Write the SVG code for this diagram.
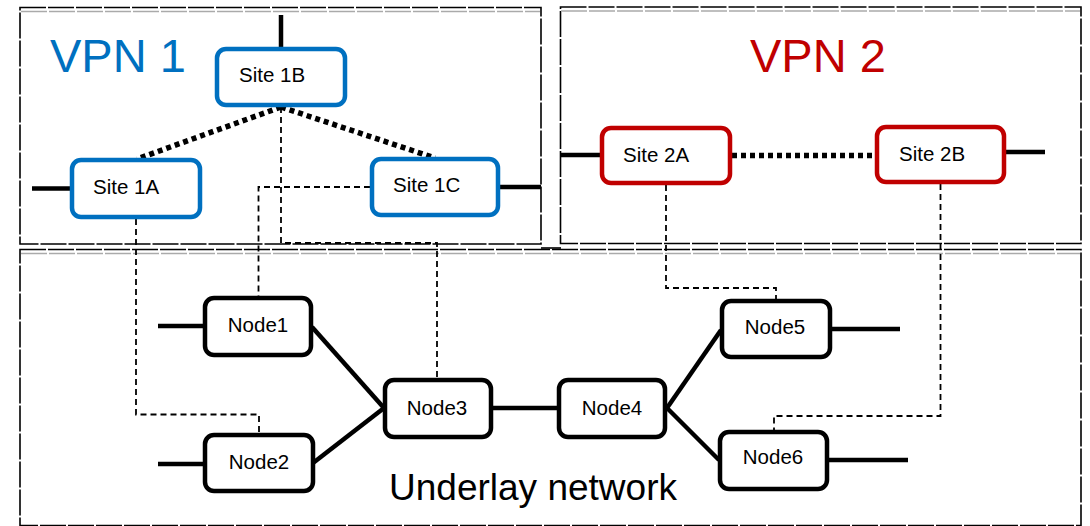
<svg xmlns="http://www.w3.org/2000/svg" width="1090" height="526" viewBox="0 0 1090 526">
<style>
.frame{fill:none;stroke:#000;stroke-width:1.6;stroke-dasharray:26 2}
.frame2{fill:none;stroke:#aaa;stroke-width:1.6;stroke-dasharray:26 2}
.site1{fill:#fff;stroke:#0070C0;stroke-width:4.5}
.site2{fill:#fff;stroke:#C00000;stroke-width:4.5}
.node{fill:#fff;stroke:#000;stroke-width:4.5}
.lbl{font-family:"Liberation Sans",Arial,sans-serif;font-size:20.5px;fill:#000}
.mid{text-anchor:middle}
.solid{stroke:#000;stroke-width:4.5;fill:none}
.dot{stroke:#000;stroke-width:5.5;fill:none;stroke-dasharray:5 4}
.dash{stroke:#000;stroke-width:1.8;fill:none;stroke-dasharray:6 4}
.title{font-family:"Liberation Sans",Arial,sans-serif;font-size:47px}
</style>
<rect width="1090" height="526" fill="#fff"/>
<g id="frames">
<rect class="frame" x="20" y="7.5" width="521" height="236.5"/>
<line class="frame2" x1="21" y1="11.5" x2="540" y2="11.5"/>
<rect class="frame" x="560.5" y="7" width="520.5" height="236.5"/>
<line class="frame2" x1="561" y1="11" x2="1080" y2="11"/>
<rect class="frame" x="20" y="249.5" width="1061" height="276"/>
<line class="frame2" x1="21" y1="253.5" x2="1080" y2="253.5"/>
<line class="frame" x1="541" y1="248" x2="561" y2="248"/>
</g>
<text class="title" x="50" y="72" fill="#0070C0">VPN 1</text>
<text class="title" x="750" y="72" fill="#C00000">VPN 2</text>
<text x="533" y="500" text-anchor="middle" font-family="Liberation Sans, Arial, sans-serif" font-size="37">Underlay network</text>
<g id="connectors">
<line class="solid" x1="281" y1="15" x2="281" y2="47"/>
<line class="solid" x1="32" y1="188.5" x2="70" y2="188.5"/>
<line class="solid" x1="500" y1="187" x2="541" y2="187"/>
<line class="solid" x1="561" y1="155" x2="600" y2="155"/>
<line class="solid" x1="1006" y1="152" x2="1045" y2="152"/>
<line class="solid" x1="158" y1="326" x2="203" y2="326"/>
<line class="solid" x1="158" y1="464" x2="203" y2="464"/>
<line class="solid" x1="832" y1="329" x2="900" y2="329"/>
<line class="solid" x1="829" y1="460" x2="908" y2="460"/>
<line class="solid" x1="312" y1="327" x2="384" y2="408"/>
<line class="solid" x1="313" y1="463" x2="384" y2="408"/>
<line class="solid" x1="493" y1="408" x2="557" y2="408"/>
<line class="solid" x1="667" y1="408" x2="721" y2="330"/>
<line class="solid" x1="667" y1="408" x2="719" y2="460"/>
<line class="dot" x1="281" y1="107" x2="137" y2="159"/>
<line class="dot" x1="281" y1="107" x2="435" y2="158"/>
<line class="dot" x1="732" y1="155.5" x2="875" y2="155.5"/>
<polyline class="dash" points="136,219 136,414.5 259,414.5 259,433"/>
<polyline class="dash" points="281,107 281,243 437,243 437,378"/>
<polyline class="dash" points="370,187 258.5,187 258.5,296"/>
<polyline class="dash" points="666,185 666,288 776,288 776,299"/>
<polyline class="dash" points="940.5,184 940.5,416 774,416 774,430"/>
</g>
<g id="site1B"><rect class="site1" x="217" y="49" width="128" height="56" rx="9"/><text class="lbl" x="239" y="82">Site 1B</text></g>
<g id="site1A"><rect class="site1" x="72" y="160" width="128" height="57" rx="9"/><text class="lbl" x="93" y="194">Site 1A</text></g>
<g id="site1C"><rect class="site1" x="372" y="159" width="126" height="56" rx="9"/><text class="lbl" x="393" y="192">Site 1C</text></g>
<g id="site2A"><rect class="site2" x="602" y="128" width="128" height="55" rx="9"/><text class="lbl" x="623" y="162">Site 2A</text></g>
<g id="site2B"><rect class="site2" x="877" y="127" width="127" height="55" rx="9"/><text class="lbl" x="899" y="161">Site 2B</text></g>
<g id="node1"><rect class="node" x="205" y="298" width="106" height="57" rx="9"/><text class="lbl mid" x="258" y="332">Node1</text></g>
<g id="node2"><rect class="node" x="205" y="435" width="108" height="56" rx="9"/><text class="lbl mid" x="259" y="469">Node2</text></g>
<g id="node3"><rect class="node" x="385" y="380" width="106" height="57" rx="9"/><text class="lbl mid" x="437" y="415">Node3</text></g>
<g id="node4"><rect class="node" x="559" y="380" width="106" height="57" rx="9"/><text class="lbl mid" x="612" y="415">Node4</text></g>
<g id="node5"><rect class="node" x="722" y="301" width="108" height="56" rx="9"/><text class="lbl mid" x="775" y="334">Node5</text></g>
<g id="node6"><rect class="node" x="720" y="432" width="107" height="57" rx="9"/><text class="lbl mid" x="773" y="464">Node6</text></g>
</svg>
